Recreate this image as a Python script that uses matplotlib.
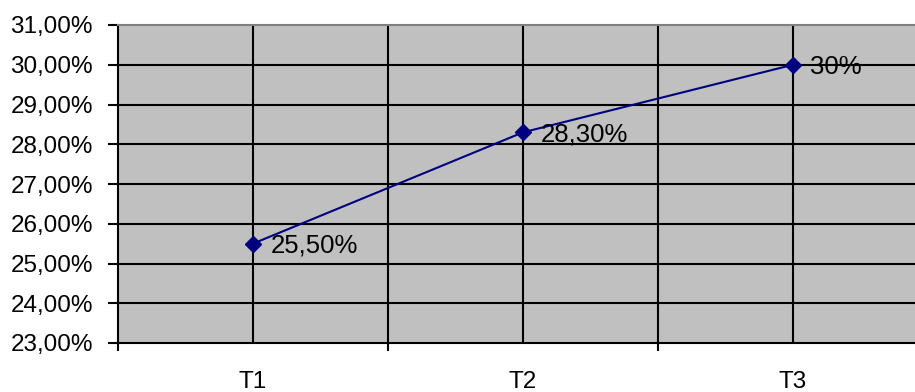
import matplotlib
matplotlib.use("Agg")
import matplotlib.pyplot as plt
from matplotlib.ticker import FixedLocator, FuncFormatter

# data
categories = ["T1", "T2", "T3"]
values = [25.5, 28.3, 30.0]
point_labels = ["25,50%", "28,30%", "30%"]
y_ticks = [23, 24, 25, 26, 27, 28, 29, 30, 31]

plt.rcParams["font.family"] = ["Liberation Sans", "DejaVu Sans"]

fig = plt.figure(figsize=(9.15, 3.92), dpi=100)
# plot area runs past the right edge like in the original
ax = fig.add_axes([118 / 915, 1 - 343 / 392, 810 / 915, 318 / 392])
ax.set_facecolor("#C0C0C0")

x = [i + 0.5 for i in range(len(categories))]
ax.set_xlim(0, len(categories))
ax.set_ylim(y_ticks[0], y_ticks[-1])

# gridlines: horizontal at each percent, vertical at centers and boundaries
for yv in y_ticks[1:-1]:
    ax.axhline(yv, color="black", lw=1.5, zorder=1)
for xv in x + list(range(1, len(categories))):
    ax.axvline(xv, color="black", lw=1.5, zorder=1)

ax.plot(x, values, color="#000080", lw=1.5, marker="D", markersize=8,
        zorder=3, clip_on=False)

for xv, yv, lab in zip(x, values, point_labels):
    ax.annotate(lab, (xv, yv), xytext=(12.5, -1.5), textcoords="offset points",
                va="center", ha="left", fontsize=18.5, color="black", zorder=4)

ax.yaxis.set_major_locator(FixedLocator(y_ticks))
ax.yaxis.set_major_formatter(FuncFormatter(lambda v, p: f"{v:.2f}".replace(".", ",") + "%"))

ax.set_xticks(range(len(categories) + 1))
ax.set_xticklabels([])
ax.set_xticks(x, minor=True)
ax.set_xticklabels(categories, minor=True)
ax.tick_params(axis="x", which="major", length=6, width=1.5, direction="out")
ax.tick_params(axis="x", which="minor", length=0, pad=20, labelsize=17.5)
ax.tick_params(axis="y", length=7, width=1.5, direction="out", labelsize=17.5, pad=11)

ax.spines["left"].set_linewidth(1.5)
ax.spines["bottom"].set_linewidth(1.5)
ax.spines["top"].set_color("#808080")
ax.spines["top"].set_linewidth(1.5)
ax.spines["right"].set_visible(False)

fig.savefig("out.png", dpi=100)
